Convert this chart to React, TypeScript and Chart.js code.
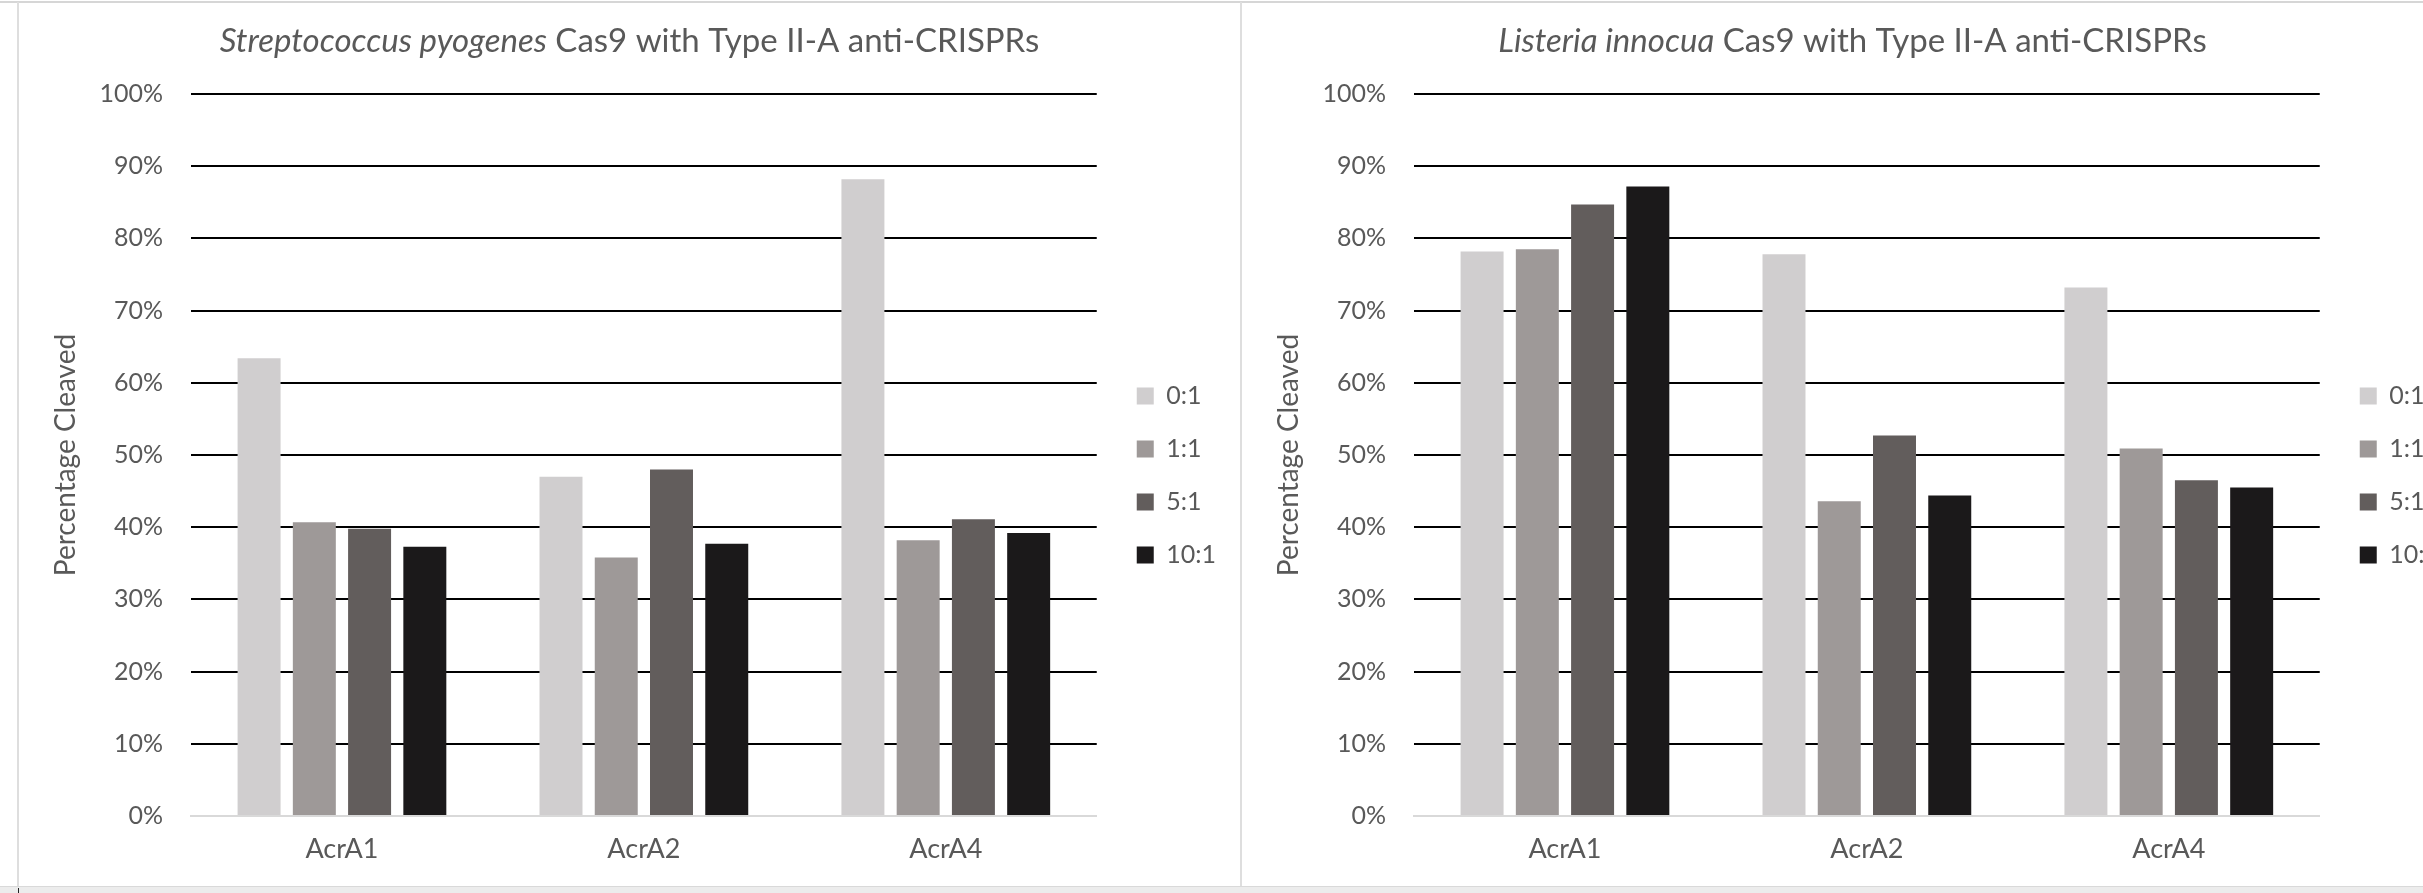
import React, { useEffect, useRef } from 'react';
import { Chart, registerables } from 'chart.js';

Chart.register(...registerables);

// ---------- data ----------
const categories = ['AcrA1', 'AcrA2', 'AcrA4'];
const seriesLabels = ['0:1', '1:1', '5:1', '10:1'];
const seriesColors = ['#D0CECF', '#9E9998', '#625D5C', '#1B191A'];

// Streptococcus pyogenes Cas9 (percent cleaved)
const spyRatio0to1 = [63.4, 47.0, 88.2];
const spyRatio1to1 = [40.7, 35.8, 38.2];
const spyRatio5to1 = [39.8, 48.0, 41.1];
const spyRatio10to1 = [37.3, 37.7, 39.2];

// Listeria innocua Cas9 (percent cleaved)
const linRatio0to1 = [78.2, 77.8, 73.2];
const linRatio1to1 = [78.5, 43.6, 50.9];
const linRatio5to1 = [84.7, 52.7, 46.5];
const linRatio10to1 = [87.2, 44.4, 45.5];

const yTickValues = [0, 10, 20, 30, 40, 50, 60, 70, 80, 90, 100];
const yTickSuffix = '%';
const yAxisTitle = 'Percentage Cleaved';

const leftTitleItalic = 'Streptococcus pyogenes';
const leftTitleRest = ' Cas9 with Type II-A anti-CRISPRs';
const rightTitleItalic = 'Listeria innocua';
const rightTitleRest = ' Cas9 with Type II-A anti-CRISPRs';

// ---------- styling ----------
const FONT = "Lato, 'Noto Sans', sans-serif";
const TEXT = '#595959';
const CW = 1221;
const CH = 884;

const richTitlePlugin = {
  id: 'richTitle',
  afterDraw(chart: any, _args: any, opts: any) {
    const segs = opts.segments || [];
    const ctx = chart.ctx;
    ctx.save();
    ctx.fillStyle = opts.color;
    ctx.textBaseline = 'middle';
    ctx.textAlign = 'left';
    const f = (it: boolean) => `${it ? 'italic ' : ''}${opts.size}px ${opts.family}`;
    let total = 0;
    const ws = segs.map((s: any) => {
      ctx.font = f(s.italic);
      const w = ctx.measureText(s.text).width;
      total += w;
      return w;
    });
    let x = chart.width / 2 - total / 2;
    segs.forEach((s: any, i: number) => {
      ctx.font = f(s.italic);
      ctx.fillText(s.text, x, opts.y);
      x += ws[i];
    });
    ctx.restore();
  },
};

const legendShiftPlugin = {
  id: 'legendShift',
  afterLayout(chart: any, _args: any, opts: any) {
    const lg = chart.legend;
    if (!lg) return;
    const dx = chart.chartArea.right + opts.gap - lg.left;
    lg.left += dx;
    lg.right += dx;
    lg.top += opts.dy;
    lg.bottom += opts.dy;
  },
};

function BarPanel({ left, values, italic, rest }: { left: number; values: number[][]; italic: string; rest: string }) {
  const ref = useRef<HTMLCanvasElement | null>(null);
  useEffect(() => {
    if (!ref.current) return;
    const chart = new Chart(ref.current, {
      type: 'bar',
      data: {
        labels: categories,
        datasets: seriesLabels.map((lab, i) => ({
          label: lab,
          data: values[i],
          backgroundColor: seriesColors[i],
          borderWidth: 0,
          categoryPercentage: 0.732,
          barPercentage: 0.778,
        })),
      },
      plugins: [richTitlePlugin, legendShiftPlugin],
      options: {
        responsive: false,
        animation: false,
        devicePixelRatio: 1,
        layout: { padding: { top: 91, left: 10, right: 26, bottom: 0 } },
        scales: {
          x: {
            grid: { display: false, drawTicks: false },
            border: { display: true, color: '#d9d9d9', width: 2 },
            ticks: { padding: 17, color: TEXT, font: { family: FONT, size: 27 } },
            afterFit: (s: any) => {
              s.height = 71;
            },
          },
          y: {
            min: 0,
            max: 100,
            afterBuildTicks: (s: any) => {
              s.ticks = yTickValues.map((v) => ({ value: v }));
            },
            ticks: {
              padding: 28,
              color: TEXT,
              font: { family: FONT, size: 25 },
              callback: (v: any) => `${v}${yTickSuffix}`,
            },
            grid: {
              drawTicks: false,
              lineWidth: 2,
              color: (c: any) => (c.tick && c.tick.value === 0 ? 'rgba(0,0,0,0)' : '#000000'),
            },
            border: { display: false },
            title: {
              display: true,
              text: yAxisTitle,
              color: TEXT,
              font: { family: FONT, size: 28 },
              padding: { top: 20, bottom: 0 },
            },
            afterFit: (s: any) => {
              s.width = 162;
            },
          },
        },
        plugins: {
          tooltip: { enabled: false },
          title: { display: false },
          legend: {
            display: true,
            position: 'right',
            labels: {
              boxWidth: 17,
              boxHeight: 17,
              padding: 28,
              color: TEXT,
              font: { family: FONT, size: 25 },
            },
          },
          legendShift: { gap: 12, dy: -15 },
          richTitle: {
            segments: [
              { text: italic, italic: true },
              { text: rest, italic: false },
            ],
            size: 33,
            family: FONT,
            color: TEXT,
            y: 38,
          },
        } as any,
      },
    } as any);
    return () => chart.destroy();
  }, []);
  return (
    <canvas
      ref={ref}
      width={CW}
      height={CH}
      style={{ position: 'absolute', left, top: 3, width: CW, height: CH, display: 'block' }}
    />
  );
}

export default function App() {
  return (
    <div
      style={{
        position: 'absolute',
        left: 0,
        top: 0,
        width: 2423,
        height: 893,
        overflow: 'hidden',
        background: '#ffffff',
      }}
    >
      <div style={{ position: 'absolute', left: 0, top: 1, width: 2423, height: 2, background: '#d6d6d6' }} />
      <div style={{ position: 'absolute', left: 17, top: 2, width: 2, height: 885, background: '#dedede' }} />
      <div style={{ position: 'absolute', left: 1240, top: 2, width: 2, height: 885, background: '#dedede' }} />
      <BarPanel
        left={19}
        values={[spyRatio0to1, spyRatio1to1, spyRatio5to1, spyRatio10to1]}
        italic={leftTitleItalic}
        rest={leftTitleRest}
      />
      <BarPanel
        left={1242}
        values={[linRatio0to1, linRatio1to1, linRatio5to1, linRatio10to1]}
        italic={rightTitleItalic}
        rest={rightTitleRest}
      />
      <div style={{ position: 'absolute', left: 0, top: 886, width: 2423, height: 7, background: '#ececec', borderTop: '1px solid #d9d9d9' }} />
      <div style={{ position: 'absolute', left: 18, top: 888, width: 1, height: 5, background: '#222' }} />
    </div>
  );
}
